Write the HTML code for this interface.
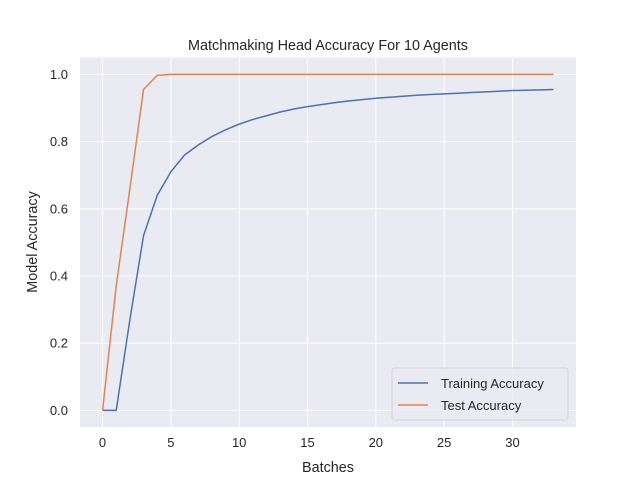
<!DOCTYPE html>
<html><head><meta charset="utf-8"><style>
body{margin:0;background:#fff;}
svg{display:block;font-family:"Liberation Sans",sans-serif;}
</style></head><body>
<svg id="chart" width="640" height="480">
<rect width="640" height="480" fill="#fff"/>
<rect x="80" y="57.6" width="496" height="369.6" fill="#eaeaf2"/>
<g id="grid"></g>
<g id="ticks"></g>
<g id="lines"></g>
<text x="328" y="50" text-anchor="middle" font-size="14.4" fill="#262626">Matchmaking Head Accuracy For 10 Agents</text>
<text x="328" y="472" text-anchor="middle" font-size="14.4" fill="#262626">Batches</text>
<text x="37" y="242" text-anchor="middle" font-size="14.4" fill="#262626" transform="rotate(-90 37 242)">Model Accuracy</text>
<g>
<rect x="392" y="368" width="176" height="52" rx="3" fill="#eaeaf2" stroke="#cccccc" stroke-width="0.8" fill-opacity="0.8"/>
<line x1="398" y1="383" x2="428" y2="383" stroke="#4c72b0" stroke-width="1.5"/>
<text x="441" y="388" font-size="13" fill="#262626">Training Accuracy</text>
<line x1="398" y1="405" x2="428" y2="405" stroke="#dd8452" stroke-width="1.5"/>
<text x="441" y="410" font-size="13" fill="#262626">Test Accuracy</text>
</g>
</svg>
<script>
const training=[0,0,0.27,0.52,0.64,0.71,0.76,0.79,0.815,0.835,0.852,0.866,0.877,0.888,0.897,0.904,0.910,0.916,0.921,0.925,0.929,0.932,0.935,0.938,0.940,0.942,0.944,0.946,0.948,0.950,0.952,0.953,0.954,0.955];
const test=[0,0.37,0.66,0.955,0.997,1,1,1,1,1,1,1,1,1,1,1,1,1,1,1,1,1,1,1,1,1,1,1,1,1,1,1,1,1];
const xTicks=[0,5,10,15,20,25,30];
const yTicks=[0.0,0.2,0.4,0.6,0.8,1.0];
const NS="http://www.w3.org/2000/svg";
const n=training.length-1, xm=n*0.05;
const X=v=>80+(v+xm)/(n+2*xm)*496;
const Y=v=>427.2-(v+0.05)/1.1*369.6;
function mk(t,a,p){const e=document.createElementNS(NS,t);for(const k in a)e.setAttribute(k,a[k]);p.appendChild(e);return e;}
const g=document.getElementById('grid'),tk=document.getElementById('ticks'),L=document.getElementById('lines');
xTicks.forEach(v=>{
 const l=mk('line',{x1:X(v),x2:X(v),y1:57.6,y2:427.2,stroke:'#fff','stroke-width':1},g);
 
 
 const t=mk('text',{x:X(v),y:447,'text-anchor':'middle','font-size':13,fill:'#262626'},tk);
 t.textContent=v;
 
 
});
yTicks.forEach(v=>{
 const l=mk('line',{x1:80,x2:576,y1:Y(v),y2:Y(v),stroke:'#fff','stroke-width':1},g);
 
 
 const t=mk('text',{x:68,y:Y(v)+4.5,'text-anchor':'end','font-size':13,fill:'#262626'},tk);
 t.textContent=v.toFixed(1);
 
 
});
function line(d,c,name){
 const p=mk('polyline',{points:d.map((v,i)=>X(i)+','+Y(v)).join(' '),fill:'none',stroke:c,'stroke-width':1.5},L);
 
 
}
line(training,'#4c72b0','training-accuracy-line');
line(test,'#dd8452','test-accuracy-line');
</script>
</body></html>
